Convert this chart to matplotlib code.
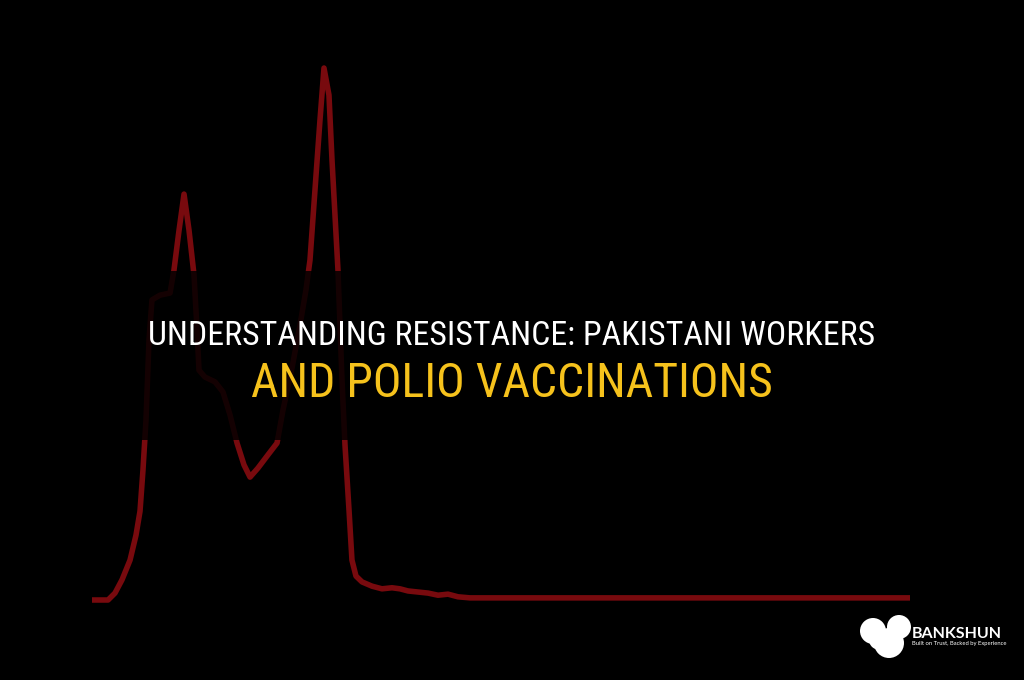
import matplotlib
matplotlib.use("Agg")
import matplotlib.pyplot as plt
from matplotlib.patches import Rectangle, Ellipse

# --- data (x: 0..100 across the plot, y: 0..100 of the tallest peak) ---
x_vals = [0, 1.96, 2.81, 3.67, 4.65, 5.38, 5.87, 6.23, 6.60, 6.97, 7.33, 8.31, 9.54,
          10.02, 10.64, 11.25, 11.86, 12.47, 12.84, 13.08, 13.81, 15.04, 16.01, 16.87,
          17.73, 18.58, 19.32, 20.29, 21.52, 22.62, 23.35, 24.45, 25.43, 26.16, 26.65,
          27.26, 27.87, 28.36, 28.97, 29.34, 30.07, 30.56, 30.93, 31.42, 31.78, 32.27,
          33.01, 34.23, 35.45, 36.67, 37.65, 38.63, 39.85, 41.08, 42.30, 43.52, 44.74,
          46.21, 100]
y_vals = [0, 0, 1.3, 3.8, 7.5, 12.2, 16.7, 24.4, 33.8, 48.9, 56.4, 57.3, 57.7,
          62.0, 69.5, 76.3, 69.5, 61.1, 50.8, 43.2, 41.9, 41.0, 39.1, 34.8,
          29.5, 25.4, 23.1, 24.8, 27.3, 29.5, 35.7, 43.6, 51.7, 58.3, 63.9,
          77.1, 90.2, 100, 94.9, 82.7, 62.0, 41.4, 29.1, 16.9, 7.5, 4.5,
          3.4, 2.6, 2.1, 2.3, 2.1, 1.7, 1.5, 1.3, 0.9, 1.1, 0.6,
          0.4, 0.4]

TITLE_1 = "UNDERSTANDING RESISTANCE: PAKISTANI WORKERS"
TITLE_2 = "AND POLIO VACCINATIONS"
BRAND = "BANKSHUN"
TAGLINE = "Built on Trust, Backed by Experience"

W, H = 1024, 680
fig = plt.figure(figsize=(W / 100, H / 100), dpi=100, facecolor="black")

# plot area: from the flat start to the right end, baseline to peak
ax = fig.add_axes([92 / W, 1 - 600 / H, (910 - 92) / W, (600 - 68) / H])
ax.set_facecolor("black")
ax.plot(x_vals, y_vals, color="#780a0e", lw=4, solid_joinstyle="round",
        solid_capstyle="butt", clip_on=False)
ax.set_xlim(0, 100)
ax.set_ylim(0, 100)
ax.axis("off")

# dark band behind the title
fig.add_artist(Rectangle((0, 1 - 440 / H), 1, 169 / H, transform=fig.transFigure,
                         facecolor="black", alpha=0.83, edgecolor="none", zorder=5))

font_list = ["Roboto Condensed", "Liberation Sans Narrow", "Liberation Sans", "DejaVu Sans"]
t1 = fig.text(0.5, 1 - 345 / H, TITLE_1, color="white", ha="center", va="baseline",
              family=font_list, fontsize=28, zorder=6)
t2 = fig.text(0.5, 1 - 397 / H, TITLE_2, color="#f6c21c", ha="center", va="baseline",
              family=font_list, fontsize=30, zorder=6)

# fit the titles to the widths seen in the reference
renderer = fig.canvas.get_renderer()
for t, target in [(t1, 728), (t2, 522)]:
    bb = t.get_window_extent(renderer)
    t.set_fontsize(t.get_fontsize() * target / bb.width)

# logo blob
for cx, cy, w, h in [(873, 631, 26, 26), (899, 627, 24, 24), (889, 643, 30, 30),
                     (880, 640, 22, 20)]:
    fig.add_artist(Ellipse((cx / W, 1 - cy / H), w / W, h / H, transform=fig.transFigure,
                           facecolor="white", edgecolor="none", zorder=6))
fig.text(912 / W, 1 - 638 / H, BRAND, color="white", fontsize=11.5, fontweight="bold",
         family=["Lato", "DejaVu Sans"], ha="left", va="baseline", zorder=6)
fig.text(912 / W, 1 - 645 / H, TAGLINE, color="white", fontsize=4.2,
         family=["Lato", "DejaVu Sans"], ha="left", va="baseline", zorder=6)

fig.savefig("out.png", dpi=100, facecolor="black")
